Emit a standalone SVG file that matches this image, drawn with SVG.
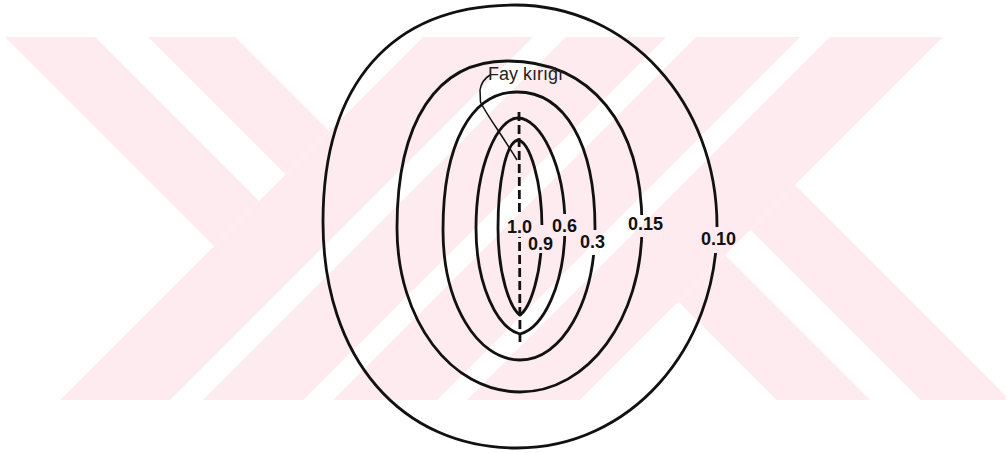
<svg xmlns="http://www.w3.org/2000/svg" width="1006" height="453" viewBox="0 0 1006 453">
<style>
.wm{fill:#fdebef;stroke:none}
.ct{fill:none;stroke:#111;stroke-width:2.8}
.fault{fill:none;stroke:#111;stroke-width:2.8;stroke-dasharray:9 4}
.lead{fill:none;stroke:#111;stroke-width:1.5}
.lbl{font-family:"Liberation Sans",Arial,sans-serif;font-size:18px;fill:#111;font-weight:bold}
.name{font-family:"Liberation Sans",Arial,sans-serif;font-size:18px;fill:#222}
</style>
<defs>
<mask id="gaps" maskUnits="userSpaceOnUse" x="0" y="0" width="1006" height="453">
<rect x="0" y="0" width="1006" height="453" fill="#fff"/>
<rect x="507" y="214" width="26" height="23" fill="#000"/>
<rect x="534" y="225" width="14" height="28" fill="#000"/>
<rect x="555" y="214" width="17" height="22" fill="#000"/>
<rect x="585" y="230" width="17" height="25" fill="#000"/>
<rect x="632" y="215" width="20" height="22" fill="#000"/>
<rect x="706" y="227" width="22" height="26" fill="#000"/>
</mask>
</defs>
<rect x="0" y="0" width="1006" height="453" fill="#fff"/>
<g id="watermark">
<polygon class="wm" points="5,37 95,37 259,201 214,246"/>
<polygon class="wm" points="148,37 235,37 329,131 285.5,174.5"/>
<polygon class="wm" points="423,37 533,37 170,400 60,400"/>
<polygon class="wm" points="566,37 666,37 303,400 203,400"/>
<polygon class="wm" points="696,37 800,37 437,400 333,400"/>
<polygon class="wm" points="830,37 943,37 580,400 467,400"/>
<polygon class="wm" points="678.5,301.5 725,255 870,400 777,400"/>
<polygon class="wm" points="750.5,229.5 795,185 1006,396 1006,400 921,400"/>
</g>
<g id="contour-0.10">
<path class="ct" mask="url(#gaps)" d="M717,226 C717,102 628,5 515,5 C392,5 323,83 323,222 C323,358 401,448 517,448 C629,448 717,350 717,226 Z"/>
<text class="lbl" x="701" y="245">0.10</text>
</g>
<g id="contour-0.15">
<path class="ct" mask="url(#gaps)" d="M642,226 C642,124 591,61 507,61 C437,61 397,121 397,228 C397,320 451,392 520,392 C588,392 642,319 642,226 Z"/>
<text class="lbl" x="628" y="230">0.15</text>
</g>
<g id="contour-0.3">
<path class="ct" mask="url(#gaps)" d="M595,228 C595,144 565,92 517,92 C471,92 443,144 443,230 C443,303 477,360 520,360 C562,360 595,302 595,228 Z"/>
<text class="lbl" x="580" y="248">0.3</text>
</g>
<g id="contour-0.6">
<path class="ct" mask="url(#gaps)" d="M565,226 C565,165 540,118 518,118 C497,118 476,167 476,228 C476,285 497,328 520,334 C543,328 565,285 565,226 Z"/>
<text class="lbl" x="552" y="232">0.6</text>
</g>
<g id="contour-0.9">
<path class="ct" mask="url(#gaps)" d="M542,228 C542,182 530,142 518,140 C506,142 498,182 498,228 C498,275 510,308 520,315 C530,308 542,275 542,228 Z"/>
<text class="lbl" x="528" y="250">0.9</text>
</g>
<g id="contour-1.0">
<path class="fault" mask="url(#gaps)" d="M519,112 L520,345"/>
<text class="lbl" x="507" y="233">1.0</text>
</g>
<g id="fay-kirigi">
<text class="name" x="488" y="80">Fay kırığı</text>
</g>
<g id="connectors">
<path class="lead" d="M490,75 C485,78 481,84 480,90 L480.5,102 C486,114 500,132 517,160"/>
</g>
</svg>
